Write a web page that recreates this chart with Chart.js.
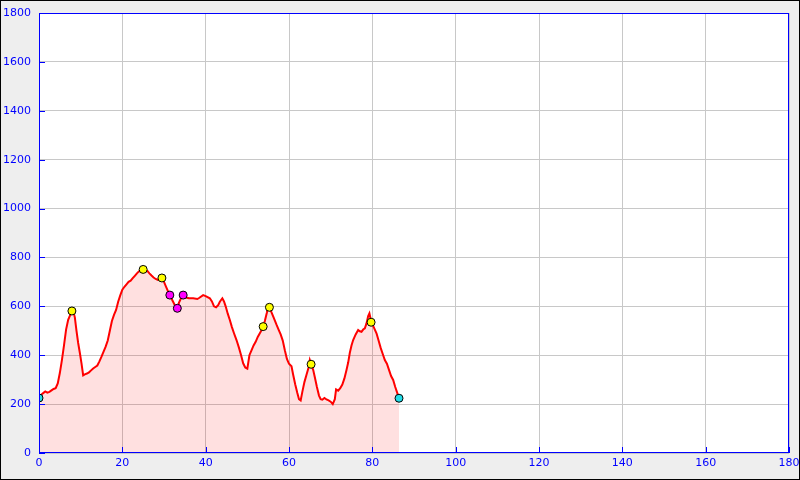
<!DOCTYPE html>
<html>
<head>
<meta charset="utf-8">
<script src="https://cdn.jsdelivr.net/npm/chart.js@4/dist/chart.umd.min.js"></script>
<style>
body{margin:0;background:#eeeeee;}
canvas{display:block;}
</style>
</head>
<body>
<canvas id="profile" width="800" height="480"></canvas>
<script>
// distance (km) and elevation (m) of the track
var distKm=[0,0.5,1,1.5,2,2.5,3,3.5,4,4.5,5,5.5,6,6.5,7,7.5,7.9,8.3,8.6,9,9.4,9.8,10.2,10.6,11,11.5,12,12.5,13,13.5,14,14.5,15,15.5,16,16.5,17,17.5,18,18.5,19,19.5,20,20.5,21,21.5,22,22.5,23,23.5,24,24.5,25,25.5,26,26.5,27,27.5,28,28.5,29,29.5,30,30.5,31,31.4,32,32.6,33.2,33.6,34,34.6,35,35.5,36,37,38,38.5,39.4,40,41,41.5,42,42.5,43,43.4,44,44.4,44.8,45.3,45.8,46.3,46.8,47.4,48,48.5,49,49.5,50,50.5,51,51.5,52,52.5,53,53.5,53.8,54.2,54.7,55,55.3,55.8,56.3,57,57.5,58,58.5,59,59.5,60,60.6,61,61.5,62,62.4,62.8,63.2,63.7,64.2,64.7,65,65.3,65.8,66.2,66.7,67.2,67.6,68,68.5,69,69.5,70,70.5,71,71.3,71.8,72.3,72.8,73.3,73.8,74.2,74.6,75,75.4,76,76.6,77,77.4,77.8,78.2,78.6,79,79.3,79.7,80.2,80.6,81,81.5,82,82.5,83,83.5,84,84.5,85,85.5,86,86.4];
var elevM=[225,238,245,252,247,250,256,262,265,285,327,380,440,505,545,565,585,575,555,500,450,410,367,318,322,325,330,338,346,352,358,375,394,415,435,460,500,540,565,585,619,645,668,680,690,700,705,715,725,735,743,748,752,748,745,735,726,718,712,708,712,716,700,680,660,646,625,605,592,615,630,646,640,635,633,633,630,635,646,642,633,620,600,596,605,619,633,620,600,570,544,515,490,462,430,400,367,350,345,400,420,440,455,475,490,505,517,540,575,600,596,575,555,525,505,485,460,420,385,365,355,320,280,245,220,215,250,290,320,350,380,365,340,310,270,235,220,218,225,219,215,210,200,220,260,255,265,280,305,340,370,410,440,462,485,503,498,496,505,510,530,560,571,540,520,505,490,460,430,405,380,365,340,315,299,270,245,224];

// waypoints
var peakKm=[7.9,25,29.5,53.8,55.3,65.3,79.7];
var peakM=[581,751,716,517,596,363,535];
var passKm=[31.4,33.2,34.6];
var passM=[646,592,646];
var endKm=[0,86.4];
var endM=[225,224];

var xTicks=[0,20,40,60,80,100,120,140,160,180];
var yTicks=[0,200,400,600,800,1000,1200,1400,1600,1800];

function pts(xs,ys){
    var out=[];
    for(var i=0;i<xs.length;i++){out.push({x:xs[i],y:ys[i]});}
    return out;
}

function marker(xs,ys,col){
    return {type:'scatter',data:pts(xs,ys),pointRadius:4,pointBackgroundColor:col,
        pointBorderColor:'#000',pointBorderWidth:1,showLine:false,order:0};
}

var frame={
    id:'frame',
    beforeDraw:function(c){
        var a=c.chartArea,ctx=c.ctx;
        ctx.save();ctx.fillStyle='#fff';
        ctx.fillRect(a.left,a.top,a.right-a.left,a.bottom-a.top);
        ctx.restore();
    },
    afterDraw:function(c){
        var a=c.chartArea,ctx=c.ctx;
        ctx.save();
        ctx.strokeStyle='#0000ff';ctx.lineWidth=1;
        ctx.strokeRect(a.left+0.5,a.top+0.5,a.right-a.left-1,a.bottom-a.top-1);
        ctx.beginPath();
        xTicks.forEach(function(v){
            var px=Math.round(c.scales.x.getPixelForValue(v))+0.5;
            ctx.moveTo(px,a.bottom);ctx.lineTo(px,a.bottom-6);
        });
        yTicks.forEach(function(v){
            var py=Math.round(c.scales.y.getPixelForValue(v))+0.5;
            ctx.moveTo(a.left,py);ctx.lineTo(a.left+6,py);
        });
        ctx.stroke();
        // outer frame
        ctx.strokeStyle='#000';ctx.lineWidth=2;
        ctx.strokeRect(0,0,c.width,c.height);
        ctx.restore();
    }
};

window.onload=function(){
    var ctx=document.getElementById('profile').getContext('2d');
    new Chart(ctx,{
        type:'line',
        data:{datasets:[
            marker(endKm,endM,'#22dde8'),
            marker(peakKm,peakM,'#ffff00'),
            marker(passKm,passM,'#ff00ff'),
            {data:pts(distKm,elevM),borderColor:'#ff0000',borderWidth:2,pointRadius:0,
             fill:'origin',backgroundColor:'rgba(255,0,0,0.12)',tension:0,order:1}
        ]},
        options:{
            responsive:false,animation:false,
            layout:{padding:{left:0,top:13,right:11,bottom:0}},
            plugins:{legend:{display:false},tooltip:{enabled:false}},
            scales:{
                x:{type:'linear',min:0,max:180,
                   afterBuildTicks:function(s){s.ticks=xTicks.map(function(v){return {value:v};});},
                   afterFit:function(s){s.height=27;s.paddingLeft=0;s.paddingRight=0;},
                   border:{display:false},
                   grid:{color:'#c8c8c8',drawTicks:false},
                   ticks:{color:'#0000ff',padding:4,maxRotation:0,font:{family:'DejaVu Sans',size:11},
                          callback:function(v){return String(v);}}},
                y:{min:0,max:1800,
                   afterBuildTicks:function(s){s.ticks=yTicks.map(function(v){return {value:v};});},
                   afterFit:function(s){s.width=39;s.paddingTop=0;s.paddingBottom=0;},
                   border:{display:false},
                   grid:{color:'#c8c8c8',drawTicks:false},
                   ticks:{color:'#0000ff',padding:8,font:{family:'DejaVu Sans',size:11},
                          callback:function(v){return String(v);}}}
            }
        },
        plugins:[frame]
    });
};
</script>
</body>
</html>
